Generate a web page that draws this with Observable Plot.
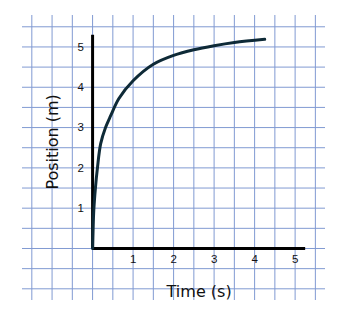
<!DOCTYPE html>
<html>
<head>
<meta charset="utf-8">
<script src="https://cdn.jsdelivr.net/npm/d3@7"></script>
<script src="https://cdn.jsdelivr.net/npm/@observablehq/plot@0.6"></script>
<style>
  html, body { margin: 0; padding: 0; background: #ffffff; }
  #chart svg { display: block; }
</style>
</head>
<body>
<div id="chart"></div>
<script>
// Data
const time     = [0, 0.03, 0.07, 0.12, 0.2, 0.32, 0.45, 0.65, 1.0, 1.5, 2.0, 2.5, 3.0, 3.5, 4.25];
const position = [0, 0.95, 1.5, 2.0, 2.6, 3.0, 3.3, 3.72, 4.16, 4.57, 4.79, 4.93, 5.03, 5.11, 5.19];
const xTickLabels = [1, 2, 3, 4, 5];
const yTickLabels = [1, 2, 3, 4, 5];
const xLabel = "Time (s)";
const yLabel = "Position (m)";
const xAxisEnd = 5.26;
const yAxisEnd = 5.29;
const gridX = [-1.5, -1, -0.5, 0, 0.5, 1, 1.5, 2, 2.5, 3, 3.5, 4, 4.5, 5, 5.5];
const gridY = [-1, -0.5, 0, 0.5, 1, 1.5, 2, 2.5, 3, 3.5, 4, 4.5, 5, 5.5];

const pts = time.map((t, i) => ({t, p: position[i]}));
const font = "'DejaVu Sans', sans-serif";

const chart = Plot.plot({
  width: 346,
  height: 319,
  marginLeft: 22,
  marginRight: 21,
  marginTop: 15,
  marginBottom: 19,
  style: {background: "#ffffff", overflow: "visible"},
  x: {domain: [-1.73, 5.75], axis: null},
  y: {domain: [-1.29, 5.78], axis: null},
  marks: [
    Plot.ruleX(gridX, {stroke: "#819ad2", strokeWidth: 1}),
    Plot.ruleY(gridY, {stroke: "#819ad2", strokeWidth: 1}),
    Plot.ruleY([0], {x1: 0, x2: xAxisEnd, stroke: "#000", strokeWidth: 3}),
    Plot.ruleX([0], {y1: 0, y2: yAxisEnd, stroke: "#000", strokeWidth: 3}),
    Plot.line(pts, {x: "t", y: "p", curve: "catmull-rom", stroke: "#0e2a37", strokeWidth: 3, strokeLinecap: "round", strokeLinejoin: "round"}),
    Plot.text(xTickLabels, {x: d => d, y: 0, dy: 11, text: d => String(d), fontSize: 11.5, fill: "#111", fontFamily: "'Liberation Sans', Arial, sans-serif"}),
    Plot.text(yTickLabels, {x: 0, y: d => d, dx: -12, textAnchor: "middle", text: d => String(d), fontSize: 11.5, fill: "#111", fontFamily: "'Liberation Sans', Arial, sans-serif"}),
    Plot.text([xLabel], {x: xAxisEnd / 2, frameAnchor: "bottom", lineAnchor: "middle", textAnchor: "middle", dy: -9, text: d => d, fontSize: 16, fill: "#111", fontFamily: font}),
    Plot.text([yLabel], {y: yAxisEnd / 2, frameAnchor: "left", lineAnchor: "middle", textAnchor: "middle", dx: 30, rotate: -90, text: d => d, fontSize: 16, fill: "#111", fontFamily: font})
  ]
});
document.getElementById("chart").appendChild(chart);
</script>
</body>
</html>
